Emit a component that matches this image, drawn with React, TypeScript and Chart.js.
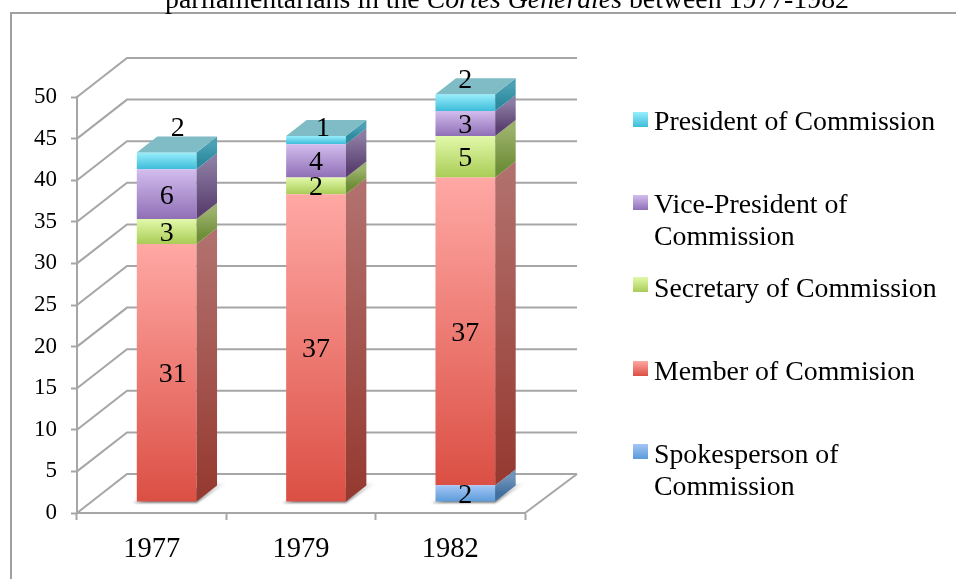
import React, { useEffect, useRef } from "react";
import { Chart, registerables } from "chart.js";

Chart.register(...registerables);

const years = ["1977", "1979", "1982"];
const spokesperson = [0, 0, 2];
const member = [31, 37, 37];
const secretary = [3, 2, 5];
const vicePresident = [6, 4, 3];
const president = [2, 1, 2];

const seriesNames = [
  "Spokesperson of Commission",
  "Member of Commision",
  "Secretary of Commission",
  "Vice-President of Commission",
  "President of Commission",
];
const seriesValues = [spokesperson, member, secretary, vicePresident, president];
const frontColors = [
  ["#a4c6f5", "#5a9ad9"],
  ["#ffa8a4", "#db4f44"],
  ["#e2f9aa", "#a9cc56"],
  ["#d3bdee", "#8f6fb6"],
  ["#98eefc", "#3dbcd9"],
];
const sideColors = [
  ["#6f94ba", "#41709f"],
  ["#b2716e", "#963a31"],
  ["#9cb26c", "#6e8d37"],
  ["#8c7ca3", "#5a4070"],
  ["#4ba0b4", "#2e8b9f"],
];
const titleParts = [
  { text: "parliamentarians in the ", italic: false },
  { text: "Cortes Generales", italic: true },
  { text: " between 1977-1982", italic: false },
];
const legendEntries = [
  { series: 4, lines: ["President of Commission"], top: 112, baselines: [130] },
  { series: 3, lines: ["Vice-President of", "Commission"], top: 195, baselines: [213, 245] },
  { series: 2, lines: ["Secretary of Commission"], top: 277, baselines: [297] },
  { series: 1, lines: ["Member of Commision"], top: 361, baselines: [380] },
  { series: 0, lines: ["Spokesperson of", "Commission"], top: 444, baselines: [463, 495] },
];
// hand-placed data labels in the original: "series:year" -> [dx, dy]
const labelNudges: Record<string, number[]> = {
  "1:0": [6, 2],
  "4:0": [11, -32],
  "4:1": [7, -11],
  "4:2": [0, -22],
};

const FONT = '"Liberation Serif", serif';
const GRID = "#a6a6a6";
const WALL_DX = 50;
const WALL_END_DX = 52;
const WALL_DY = -39;
const BAR_DX = 15;
const BAR_DY = -11;
const SIDE_DX = 20.5;
const SIDE_DY = -16;

function poly(ctx: CanvasRenderingContext2D, pts: number[][], fill: any) {
  ctx.beginPath();
  pts.forEach((p, i) => (i ? ctx.lineTo(p[0], p[1]) : ctx.moveTo(p[0], p[1])));
  ctx.closePath();
  ctx.fillStyle = fill;
  ctx.fill();
}

const threeD = {
  id: "threeD",
  beforeDraw(chart: any) {
    const ctx: CanvasRenderingContext2D = chart.ctx;
    ctx.save();
    ctx.fillStyle = "#ffffff";
    ctx.fillRect(0, 0, chart.width, chart.height);
    ctx.strokeStyle = "#a0a0a0";
    ctx.lineWidth = 2;
    ctx.beginPath();
    ctx.moveTo(11, chart.height);
    ctx.lineTo(11, 13);
    ctx.lineTo(chart.width, 13);
    ctx.stroke();
    let x = 165;
    ctx.fillStyle = "#000";
    ctx.textBaseline = "alphabetic";
    ctx.textAlign = "left";
    titleParts.forEach((p) => {
      ctx.font = `${p.italic ? "italic " : ""}27.8px ${FONT}`;
      ctx.fillText(p.text, x, 8);
      x += ctx.measureText(p.text).width;
    });
    // legend
    legendEntries.forEach((e) => {
      const g = ctx.createLinearGradient(0, e.top, 0, e.top + 15);
      g.addColorStop(0, frontColors[e.series][0]);
      g.addColorStop(1, frontColors[e.series][1]);
      ctx.fillStyle = g;
      ctx.fillRect(633, e.top, 15, 15);
      ctx.fillStyle = "#000";
      ctx.font = `27.8px ${FONT}`;
      e.lines.forEach((l, i) => ctx.fillText(l, 654, e.baselines[i]));
    });
    ctx.restore();
  },
  beforeDatasetsDraw(chart: any) {
    const ctx: CanvasRenderingContext2D = chart.ctx;
    const { x: xs, y: ys } = chart.scales;
    const left = xs.left;
    const right = xs.right;
    ctx.save();
    ctx.strokeStyle = GRID;
    ctx.lineWidth = 2;
    ys.ticks.forEach((t: any) => {
      const y = ys.getPixelForValue(t.value);
      ctx.beginPath();
      ctx.moveTo(left, y);
      ctx.lineTo(left + WALL_DX, y + WALL_DY);
      ctx.lineTo(right + WALL_END_DX, y + WALL_DY);
      ctx.stroke();
    });
    const y0 = ys.getPixelForValue(0);
    ctx.beginPath();
    ctx.moveTo(right, y0);
    ctx.lineTo(right + WALL_END_DX, y0 + WALL_DY);
    ctx.stroke();
    // floor shadows
    chart.getDatasetMeta(0).data.forEach((el: any) => {
      const xl = el.x - el.width / 2 + BAR_DX;
      const xr = el.x + el.width / 2 + BAR_DX;
      const yb = y0 + BAR_DY;
      const g = ctx.createLinearGradient(xr, yb, xr + 31, yb - 8);
      g.addColorStop(0, "rgba(110,110,110,0.9)");
      g.addColorStop(1, "rgba(190,190,190,0.05)");
      ctx.save();
      (ctx as any).filter = "blur(1px)";
      poly(ctx, [[xl - 4, yb + 1], [xr, yb + 1], [xr + 31, yb + SIDE_DY - 3], [xr + 20, yb + SIDE_DY - 3]], g);
      ctx.restore();
    });
    ctx.restore();
    ctx.save();
    ctx.translate(BAR_DX, BAR_DY);
  },
  afterDatasetsDraw(chart: any) {
    const ctx: CanvasRenderingContext2D = chart.ctx;
    ctx.restore();
    ctx.save();
    seriesValues.forEach((vals, s) => {
      const meta = chart.getDatasetMeta(s);
      meta.data.forEach((el: any, i: number) => {
        if (!vals[i]) return;
        const xl = el.x - el.width / 2 + BAR_DX;
        const xr = el.x + el.width / 2 + BAR_DX;
        const yt = el.y + BAR_DY;
        const yb = el.base + BAR_DY;
        const g = ctx.createLinearGradient(0, yt + SIDE_DY / 2, 0, yb + SIDE_DY / 2);
        g.addColorStop(0, sideColors[s][0]);
        g.addColorStop(1, sideColors[s][1]);
        poly(ctx, [[xr, yt], [xr + SIDE_DX, yt + SIDE_DY], [xr + SIDE_DX, yb + SIDE_DY], [xr, yb]], g);
        const isTop = !seriesValues.slice(s + 1).some((v) => v[i]);
        if (isTop) {
          poly(ctx, [[xl, yt], [xl + SIDE_DX, yt + SIDE_DY], [xr + SIDE_DX, yt + SIDE_DY], [xr, yt]], "#7fbcc6");
        }
      });
    });
    ctx.fillStyle = "#000";
    ctx.font = `28px ${FONT}`;
    ctx.textAlign = "center";
    ctx.textBaseline = "middle";
    seriesValues.forEach((vals, s) => {
      const meta = chart.getDatasetMeta(s);
      meta.data.forEach((el: any, i: number) => {
        if (!vals[i]) return;
        const n = labelNudges[`${s}:${i}`] || [0, 2];
        ctx.fillText(String(vals[i]), el.x + BAR_DX + n[0], (el.y + el.base) / 2 + BAR_DY + n[1]);
      });
    });
    ctx.restore();
  },
};

function frontFill(series: number) {
  return (c: any) => {
    const ys = c.chart.scales && c.chart.scales.y;
    if (!ys || c.dataIndex === undefined) return frontColors[series][1];
    let start = 0;
    for (let k = 0; k < series; k++) start += seriesValues[k][c.dataIndex];
    const end = start + seriesValues[series][c.dataIndex];
    const y1 = ys.getPixelForValue(end);
    const y0 = ys.getPixelForValue(start);
    if (!Number.isFinite(y0) || !Number.isFinite(y1)) return frontColors[series][1];
    const g = c.chart.ctx.createLinearGradient(0, y1, 0, y0);
    g.addColorStop(0, frontColors[series][0]);
    g.addColorStop(1, frontColors[series][1]);
    return g;
  };
}

export default function App() {
  const ref = useRef<HTMLCanvasElement>(null);
  useEffect(() => {
    const chart = new Chart(ref.current as HTMLCanvasElement, {
      type: "bar",
      data: {
        labels: years,
        datasets: seriesValues.map((vals, s) => ({
          label: seriesNames[s],
          data: vals,
          backgroundColor: frontFill(s),
          borderWidth: 0,
          barPercentage: 0.4,
          categoryPercentage: 1,
          clip: false,
        })),
      },
      options: {
        responsive: false,
        animation: false,
        events: [],
        layout: { padding: { left: 0, right: 431, top: 97, bottom: 0 } },
        plugins: { legend: { display: false }, title: { display: false }, tooltip: { enabled: false } },
        scales: {
          x: {
            stacked: true,
            afterFit: (s: any) => { s.height = 66; },
            border: { color: GRID, width: 2 },
            grid: { display: true, drawOnChartArea: false, drawTicks: true, tickLength: 7, tickColor: GRID, tickWidth: 2, offset: true },
            ticks: { color: "#000", font: { family: FONT, size: 28.5 }, padding: 12, maxRotation: 0 },
          },
          y: {
            stacked: true,
            min: 0,
            max: 50,
            afterFit: (s: any) => { s.width = 77; },
            border: { color: GRID, width: 2 },
            grid: { display: true, drawOnChartArea: false, drawTicks: true, tickLength: 6, tickColor: GRID, tickWidth: 2 },
            ticks: { stepSize: 5, color: "#000", font: { family: FONT, size: 23 }, padding: 14 },
          },
        },
      },
      plugins: [threeD],
    } as any);
    return () => chart.destroy();
  }, []);
  return (
    <div style={{ position: "absolute", left: 0, top: 0, width: 956, height: 579 }}>
      <canvas ref={ref} width={956} height={579} style={{ display: "block" }} />
    </div>
  );
}
